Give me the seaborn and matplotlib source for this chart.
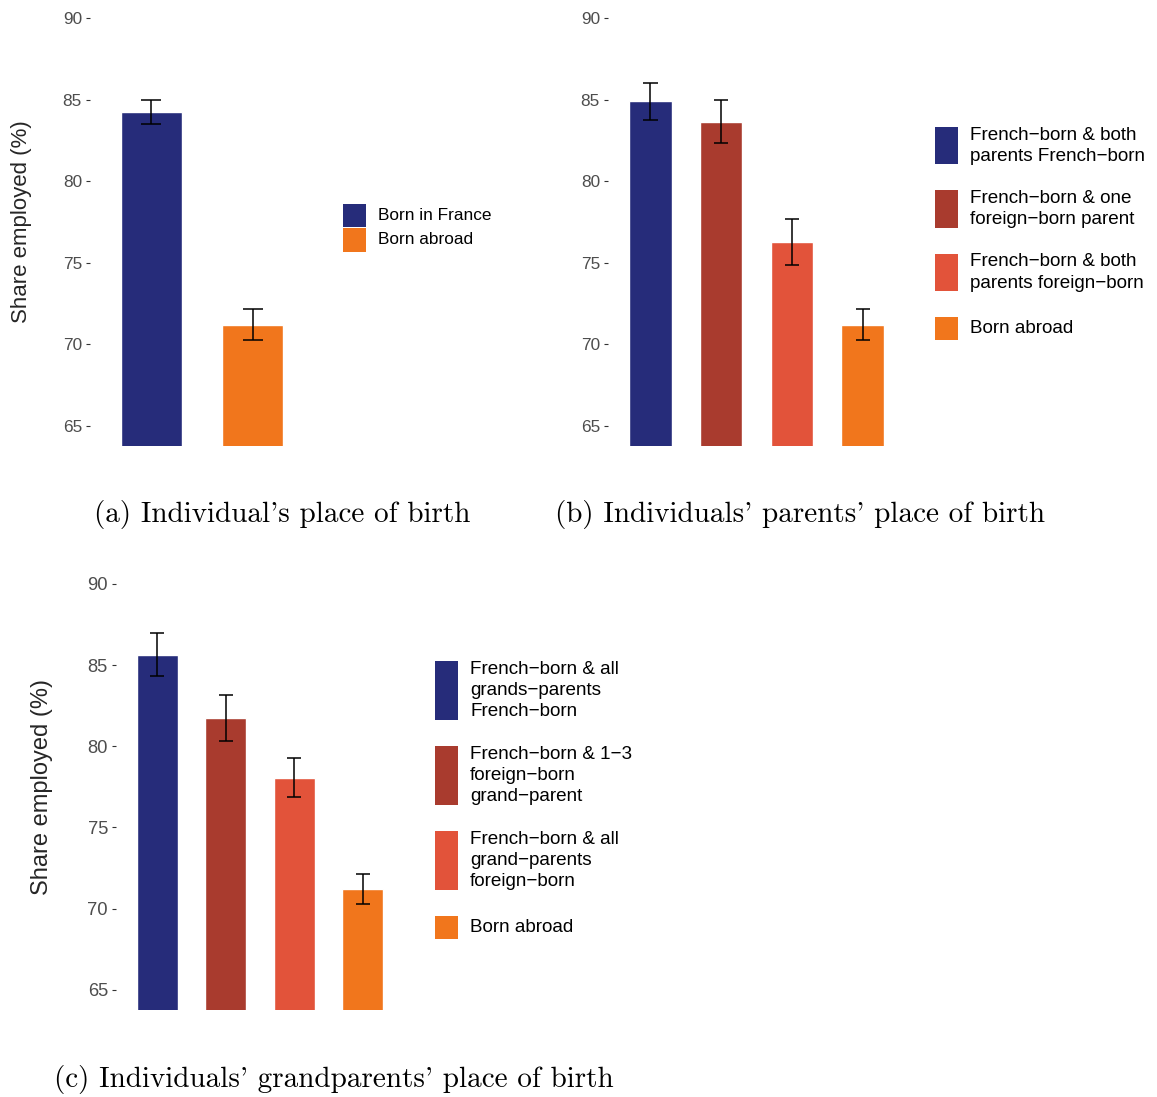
import matplotlib
matplotlib.use("Agg")
import matplotlib.pyplot as plt
import pandas as pd
import seaborn as sns
from matplotlib.patches import Rectangle

# ---- data -------------------------------------------------------------
birth_labels = ["Born in France", "Born abroad"]
birth_share = [84.23, 71.2]
birth_ci = [0.73, 0.93]
birth_colors = ["#262C7A", "#F1761C"]

parent_labels = [
    "French\u2212born & both\nparents French\u2212born",
    "French\u2212born & one\nforeign\u2212born parent",
    "French\u2212born & both\nparents foreign\u2212born",
    "Born abroad",
]
parent_share = [84.9, 83.65, 76.26, 71.2]
parent_ci = [1.15, 1.33, 1.40, 0.93]

grand_labels = [
    "French\u2212born & all\ngrands\u2212parents\nFrench\u2212born",
    "French\u2212born & 1\u22123\nforeign\u2212born\ngrand\u2212parent",
    "French\u2212born & all\ngrand\u2212parents\nforeign\u2212born",
    "Born abroad",
]
grand_share = [85.65, 81.76, 78.07, 71.2]
grand_ci = [1.33, 1.43, 1.19, 0.93]

four_colors = ["#262C7A", "#A93B2E", "#E2533A", "#F1761C"]

y_ticks = [65, 70, 75, 80, 85, 90]
y_label = "Share employed (%)"
captions = [
    "(a) Individual's place of birth",
    "(b) Individuals' parents' place of birth",
    "(c) Individuals' grandparents' place of birth",
]

# ---- style ------------------------------------------------------------
sns.set_style("white")
plt.rcParams["font.family"] = ["Liberation Sans", "DejaVu Sans"]

W, H = 1157, 1097
fig = plt.figure(figsize=(W / 100, H / 100), dpi=100)


def fx(x):
    return x / W


def fy(y):
    return 1 - y / H


def make_axes(left, right, top, bottom):
    return fig.add_axes([fx(left), fy(bottom), (right - left) / W, (bottom - top) / H])


def draw_panel(ax, labels, share, ci, colors, tick_size):
    df = pd.DataFrame({"group": labels, "share": share, "ci": ci})
    sns.barplot(data=df, x="group", y="share", hue="group", order=labels,
                hue_order=labels, palette=colors, width=0.6, saturation=1,
                errorbar=None, legend=False, ax=ax)
    xs = list(range(len(labels)))
    ax.errorbar(xs, df["share"], yerr=df["ci"], fmt="none", ecolor="black",
                elinewidth=1.1, capsize=0)
    ax.hlines(df["share"] + df["ci"], [x - 0.1 for x in xs], [x + 0.1 for x in xs],
              color="black", linewidth=1.1)
    ax.hlines(df["share"] - df["ci"], [x - 0.1 for x in xs], [x + 0.1 for x in xs],
              color="black", linewidth=1.1)
    ax.set_xlim(-0.6, len(labels) - 0.4)
    ax.set_ylim(63.75, 91.25)
    ax.set_yticks(y_ticks)
    ax.set_xticks([])
    ax.set_xlabel("")
    ax.set_ylabel("")
    sns.despine(ax=ax, left=True, bottom=True)
    ax.tick_params(axis="y", left=True, length=3, width=0.8, color="#333333",
                   labelcolor="#4D4D4D", labelsize=tick_size, pad=2.8)
    ax.patch.set_alpha(0)


def draw_legend(labels, colors, key_x, start_y, gap, line_px, text_x, size, spacing):
    y = start_y
    for lab, col in zip(labels, colors):
        n = lab.count("\n") + 1
        h = max(23, n * line_px - 4)
        fig.add_artist(Rectangle((fx(key_x), fy(y + h)), 23 / W, h / H,
                                 transform=fig.transFigure, facecolor=col,
                                 edgecolor="none"))
        fig.text(fx(text_x), fy(y + h / 2), lab, ha="left", va="center",
                 fontsize=size, linespacing=spacing, color="black")
        y += h + gap


# (a) individual's place of birth
ax_a = make_axes(90, 314, -2.1, 446)
draw_panel(ax_a, birth_labels, birth_share, birth_ci, birth_colors, 12.4)
draw_legend(birth_labels, birth_colors, 343, 204, 1.5, 20, 378, 12.4, 1.1)
fig.text(fx(21), fy(221.5), y_label, rotation=90, ha="center", va="center",
         fontsize=16)

# (b) parents' place of birth
ax_b = make_axes(608, 905, -2.1, 446)
draw_panel(ax_b, parent_labels, parent_share, parent_ci, four_colors, 12.4)
draw_legend(parent_labels, four_colors, 935, 127, 26, 20.7, 970, 13.6, 1.32)

# (c) grandparents' place of birth
ax_c = make_axes(116, 404, 563.7, 1010)
draw_panel(ax_c, grand_labels, grand_share, grand_ci, four_colors, 13.2)
draw_legend(grand_labels, four_colors, 435, 661, 26, 21, 470, 13.6, 1.28)
fig.text(fx(42), fy(787), y_label, rotation=90, ha="center", va="center",
         fontsize=17)

# captions
cap_font = dict(family="cmr10", fontsize=21, color="black", ha="center", va="center")
fig.text(fx(282), fy(515), captions[0], **cap_font)
fig.text(fx(800), fy(515), captions[1], **cap_font)
fig.text(fx(334), fy(1080), captions[2], **cap_font)

fig.savefig("out.png", dpi=100, facecolor="white")
